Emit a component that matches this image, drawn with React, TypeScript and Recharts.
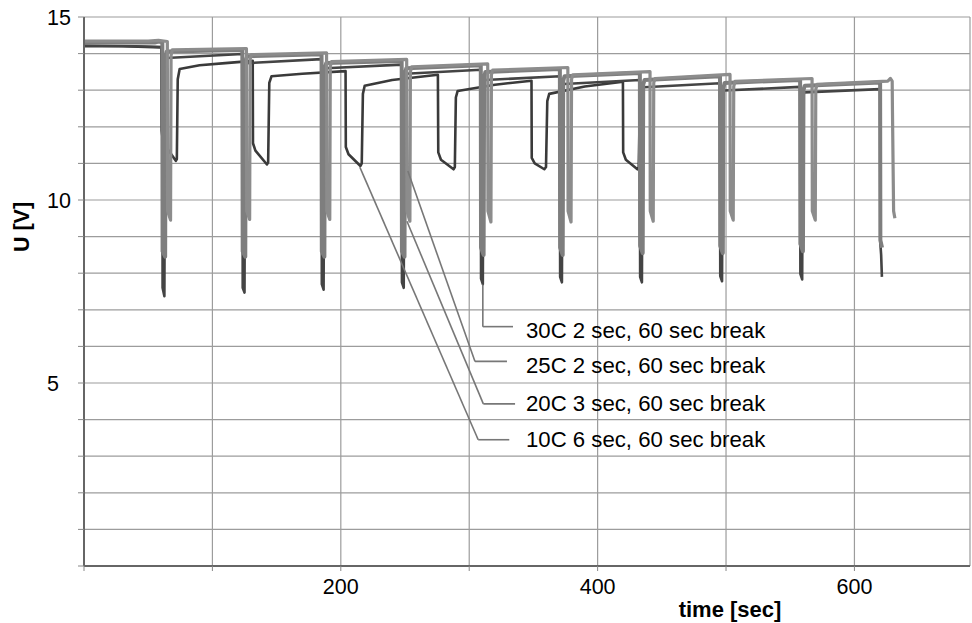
import React from "react";
import {
  LineChart,
  Line,
  XAxis,
  YAxis,
  CartesianGrid,
  ReferenceLine,
  ReferenceDot,
  Label,
} from "recharts";

const FONT = '"Liberation Sans", Arial, sans-serif';

// time [sec] / voltage [V]
const s10C = [
  { t: 0, v: 14.2 }, { t: 30, v: 14.2 }, { t: 60.2, v: 14.17 },
  { t: 60.4, v: 11.9 }, { t: 61.5, v: 11.62 }, { t: 64, v: 11.45 }, { t: 71.5, v: 11.07 }, { t: 72.3, v: 11.12 },
  { t: 73, v: 13.3 }, { t: 74.5, v: 13.58 }, { t: 90, v: 13.68 }, { t: 110, v: 13.74 }, { t: 131.4, v: 13.8 },
  { t: 131.6, v: 11.55 }, { t: 133.5, v: 11.35 }, { t: 142.5, v: 10.97 }, { t: 143.4, v: 11.03 },
  { t: 144.3, v: 13.2 }, { t: 146, v: 13.38 }, { t: 170, v: 13.45 }, { t: 203.7, v: 13.52 },
  { t: 203.9, v: 11.45 }, { t: 206, v: 11.25 }, { t: 215.3, v: 10.93 }, { t: 216.3, v: 11.0 },
  { t: 217.2, v: 12.9 }, { t: 218.6, v: 13.12 }, { t: 240, v: 13.28 }, { t: 275.6, v: 13.42 },
  { t: 275.9, v: 11.3 }, { t: 278, v: 11.1 }, { t: 287.8, v: 10.84 }, { t: 288.8, v: 10.9 },
  { t: 289.6, v: 12.8 }, { t: 291, v: 12.98 }, { t: 320, v: 13.15 }, { t: 348.5, v: 13.26 },
  { t: 348.7, v: 11.15 }, { t: 351, v: 11.0 }, { t: 358.5, v: 10.84 }, { t: 359.8, v: 10.9 },
  { t: 360.8, v: 12.7 }, { t: 362.3, v: 12.9 }, { t: 390, v: 13.1 }, { t: 419.7, v: 13.23 },
  { t: 419.9, v: 11.3 }, { t: 422, v: 11.1 }, { t: 431, v: 10.84 }, { t: 432, v: 10.9 },
  { t: 433, v: 12.8 }, { t: 434.5, v: 13.0 },
];

const s30C = [
  { t: 0, v: 14.22 }, { t: 40, v: 14.2 }, { t: 61, v: 14.18 },
  { t: 61.2, v: 7.6 }, { t: 62.6, v: 7.37 }, { t: 63.2, v: 13.6 }, { t: 64.2, v: 13.88 }, { t: 123.4, v: 13.99 },
  { t: 123.6, v: 7.6 }, { t: 125, v: 7.47 }, { t: 125.6, v: 13.55 }, { t: 126.6, v: 13.74 }, { t: 185, v: 13.85 },
  { t: 185.2, v: 7.7 }, { t: 186.6, v: 7.55 }, { t: 187.2, v: 13.45 }, { t: 188.2, v: 13.6 }, { t: 247.4, v: 13.7 },
  { t: 247.6, v: 7.75 }, { t: 249, v: 7.6 }, { t: 249.6, v: 13.3 }, { t: 250.6, v: 13.45 }, { t: 309, v: 13.56 },
  { t: 309.2, v: 7.85 }, { t: 310.6, v: 7.7 }, { t: 311.2, v: 13.15 }, { t: 312.2, v: 13.28 }, { t: 370.6, v: 13.38 },
  { t: 370.8, v: 7.9 }, { t: 372.2, v: 7.75 }, { t: 372.8, v: 13.0 }, { t: 373.8, v: 13.17 }, { t: 432.9, v: 13.28 },
  { t: 433.1, v: 7.9 }, { t: 434.5, v: 7.75 }, { t: 435.1, v: 12.95 }, { t: 436.1, v: 13.08 }, { t: 495.3, v: 13.19 },
  { t: 495.5, v: 7.92 }, { t: 496.9, v: 7.78 }, { t: 497.5, v: 12.85 }, { t: 498.5, v: 12.99 }, { t: 557.7, v: 13.09 },
  { t: 557.9, v: 7.98 }, { t: 559.3, v: 7.83 }, { t: 559.9, v: 12.8 }, { t: 560.9, v: 12.94 }, { t: 620, v: 13.03 },
  { t: 620.2, v: 8.8 }, { t: 620.8, v: 8.5 }, { t: 621.4, v: 7.9 },
];

const s25C = [
  { t: 0, v: 14.3 }, { t: 55, v: 14.3 }, { t: 58, v: 14.33 }, { t: 61, v: 14.31 },
  { t: 61.2, v: 8.6 }, { t: 63.2, v: 8.45 }, { t: 63.6, v: 13.9 }, { t: 64.5, v: 14.06 }, { t: 123.3, v: 14.1 },
  { t: 123.6, v: 8.6 }, { t: 125.6, v: 8.45 }, { t: 126, v: 13.8 }, { t: 127, v: 13.93 }, { t: 185, v: 13.98 },
  { t: 185.2, v: 8.6 }, { t: 187.2, v: 8.45 }, { t: 187.6, v: 13.6 }, { t: 188.6, v: 13.74 }, { t: 247.4, v: 13.8 },
  { t: 247.6, v: 8.6 }, { t: 249.6, v: 8.45 }, { t: 250, v: 13.45 }, { t: 251, v: 13.6 }, { t: 309, v: 13.68 },
  { t: 309.2, v: 8.7 }, { t: 311.2, v: 8.5 }, { t: 311.6, v: 13.35 }, { t: 312.6, v: 13.5 }, { t: 370.6, v: 13.58 },
  { t: 370.8, v: 8.7 }, { t: 372.8, v: 8.5 }, { t: 373.2, v: 13.25 }, { t: 374.2, v: 13.38 }, { t: 432.9, v: 13.47 },
  { t: 433.1, v: 8.75 }, { t: 435.1, v: 8.55 }, { t: 435.5, v: 13.15 }, { t: 436.5, v: 13.28 }, { t: 495.3, v: 13.38 },
  { t: 495.5, v: 8.75 }, { t: 497.5, v: 8.55 }, { t: 497.9, v: 13.05 }, { t: 498.9, v: 13.2 }, { t: 557.7, v: 13.28 },
  { t: 557.9, v: 8.8 }, { t: 559.9, v: 8.6 }, { t: 560.3, v: 13.0 }, { t: 561.3, v: 13.12 }, { t: 620, v: 13.21 },
  { t: 620.2, v: 8.9 }, { t: 621.5, v: 8.7 },
];

const s20C = [
  { t: 0, v: 14.34 }, { t: 50, v: 14.34 }, { t: 58, v: 14.36 }, { t: 64.9, v: 14.33 },
  { t: 65.1, v: 9.7 }, { t: 67.4, v: 9.45 }, { t: 67.8, v: 13.95 }, { t: 68.8, v: 14.1 }, { t: 126.5, v: 14.14 },
  { t: 126.7, v: 9.7 }, { t: 129, v: 9.47 }, { t: 129.4, v: 13.85 }, { t: 130.4, v: 13.97 }, { t: 188.9, v: 14.02 },
  { t: 189.1, v: 9.7 }, { t: 191.4, v: 9.47 }, { t: 191.8, v: 13.65 }, { t: 192.8, v: 13.78 }, { t: 251.3, v: 13.84 },
  { t: 251.5, v: 9.7 }, { t: 253.8, v: 9.42 }, { t: 254.2, v: 13.5 }, { t: 255.2, v: 13.64 }, { t: 314.4, v: 13.72 },
  { t: 314.6, v: 9.7 }, { t: 316.9, v: 9.4 }, { t: 317.3, v: 13.42 }, { t: 318.3, v: 13.55 }, { t: 376.8, v: 13.62 },
  { t: 377, v: 9.7 }, { t: 379.3, v: 9.4 }, { t: 379.7, v: 13.3 }, { t: 380.7, v: 13.42 }, { t: 440.8, v: 13.51 },
  { t: 441, v: 9.7 }, { t: 443.3, v: 9.42 }, { t: 443.7, v: 13.2 }, { t: 444.7, v: 13.32 }, { t: 503.1, v: 13.43 },
  { t: 503.3, v: 9.7 }, { t: 505.6, v: 9.45 }, { t: 506, v: 13.1 }, { t: 507, v: 13.24 }, { t: 567, v: 13.32 },
  { t: 567.2, v: 9.7 }, { t: 569.5, v: 9.45 }, { t: 569.9, v: 13.02 }, { t: 570.9, v: 13.16 }, { t: 626, v: 13.25 },
  { t: 628, v: 13.32 }, { t: 629.4, v: 13.25 }, { t: 629.6, v: 12.5 }, { t: 630.5, v: 9.7 }, { t: 631.5, v: 9.5 },
];

const xTicks = [0, 100, 200, 300, 400, 500, 600];
const xLabelled = [200, 400, 600];
const yTicks = [0, 1, 2, 3, 4, 5, 6, 7, 8, 9, 10, 11, 12, 13, 14, 15];
const yLabelled = [5, 10, 15];

// leader lines: start on curve -> elbow -> end of horizontal stub, then label position
const leaders = [
  { name: "30C 2 sec, 60 sec break", pts: [[310.6, 7.69], [310.6, 6.54], [334.1, 6.54]], text: [344.2, 6.46] },
  { name: "25C 2 sec, 60 sec break", pts: [[252.2, 10.79], [304.5, 5.59], [329.4, 5.59]], text: [344.2, 5.5] },
  { name: "20C 3 sec, 60 sec break", pts: [[251.5, 9.42], [311, 4.43], [335.7, 4.43]], text: [344.2, 4.46] },
  { name: "10C 6 sec, 60 sec break", pts: [[214.8, 10.9], [307, 3.45], [331.2, 3.45]], text: [344.2, 3.48] },
];

const XTick = (props: any) => {
  const { x, y, payload } = props;
  if (!xLabelled.includes(payload.value)) return <g />;
  return (
    <text x={x} y={y} dy="0.71em" textAnchor="middle" fontSize={21.5} fill="#000" fontFamily={FONT}>
      {payload.value}
    </text>
  );
};

const YTick = (props: any) => {
  const { y, payload } = props;
  if (!yLabelled.includes(payload.value)) return <g />;
  return (
    <text x={47} y={y} dy="0.36em" textAnchor="start" fontSize={21.5} fill="#000" fontFamily={FONT}>
      {payload.value}
    </text>
  );
};

export default function App() {
  return (
    <div style={{ width: 972, height: 623, background: "#fff" }}>
      <style>{"body{margin:0}"}</style>
      <LineChart width={972} height={623} margin={{ top: 17, right: 2, bottom: 0, left: 0 }}>
        <CartesianGrid stroke="#9c9c9c" strokeWidth={1.2} />
        <XAxis
          dataKey="t"
          type="number"
          domain={[0, 690]}
          ticks={xTicks}
          allowDataOverflow
          height={57}
          tickSize={5}
          tickMargin={8}
          tick={XTick}
          tickLine={{ stroke: "#888" }}
          axisLine={{ stroke: "#666", strokeWidth: 2 }}
        >
          <Label
            content={(p: any) => (
              <text
                x={p.viewBox.x + 646}
                y={p.viewBox.y + 51}
                textAnchor="middle"
                fontSize={22}
                fontWeight="bold"
                fill="#000"
                fontFamily={FONT}
              >
                time [sec]
              </text>
            )}
          />
        </XAxis>
        <YAxis
          type="number"
          domain={[0, 15]}
          ticks={yTicks}
          width={84}
          tickSize={6}
          tick={YTick}
          tickLine={{ stroke: "#888" }}
          axisLine={{ stroke: "#666", strokeWidth: 2 }}
        >
          <Label
            content={() => (
              <text
                x={22}
                y={227}
                transform="rotate(-90 22 227)"
                textAnchor="middle"
                dominantBaseline="central"
                fontSize={21.5}
                fontWeight="bold"
                fill="#000"
                fontFamily={FONT}
              >
                U [V]
              </text>
            )}
          />
        </YAxis>

        <Line data={s10C} dataKey="v" type="linear" stroke="#3a3a3a" strokeWidth={2.6} strokeLinejoin="round" dot={false} activeDot={false} isAnimationActive={false} />
        <Line data={s30C} dataKey="v" type="linear" stroke="#444" strokeWidth={2.6} strokeLinejoin="round" dot={false} activeDot={false} isAnimationActive={false} />
        <Line data={s25C} dataKey="v" type="linear" stroke="#7e7e7e" strokeWidth={4} strokeLinejoin="round" dot={false} activeDot={false} isAnimationActive={false} />
        <Line data={s20C} dataKey="v" type="linear" stroke="#8c8c8c" strokeWidth={3.2} strokeLinejoin="round" dot={false} activeDot={false} isAnimationActive={false} />

        {leaders.map((l) => (
          <ReferenceLine
            key={l.name + "a"}
            segment={[{ x: l.pts[0][0], y: l.pts[0][1] }, { x: l.pts[1][0], y: l.pts[1][1] }]}
            stroke="#777"
            strokeWidth={1.6}
          />
        ))}
        {leaders.map((l) => (
          <ReferenceLine
            key={l.name + "b"}
            segment={[{ x: l.pts[1][0], y: l.pts[1][1] }, { x: l.pts[2][0], y: l.pts[2][1] }]}
            stroke="#777"
            strokeWidth={1.6}
          />
        ))}
        {leaders.map((l) => (
          <ReferenceDot
            key={l.name}
            x={l.text[0]}
            y={l.text[1]}
            r={0}
            fill="none"
            stroke="none"
            label={(p: any) => (
              <text
                x={p.viewBox.x}
                y={p.viewBox.y}
                dy="0.36em"
                textAnchor="start"
                fontSize={22.2}
                fill="#000"
                fontFamily={FONT}
              >
                {l.name}
              </text>
            )}
          />
        ))}
      </LineChart>
    </div>
  );
}
